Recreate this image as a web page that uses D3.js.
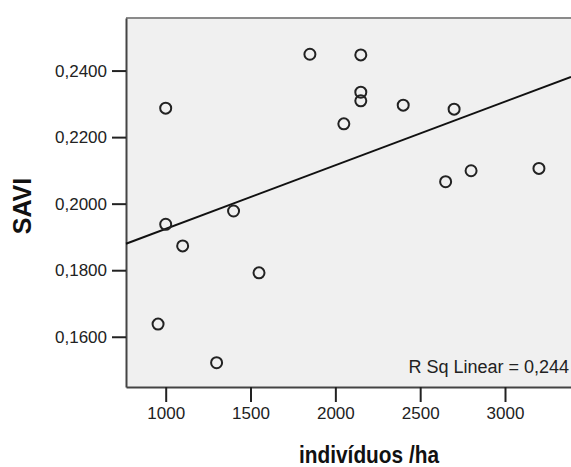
<!DOCTYPE html>
<html>
<head>
<meta charset="utf-8">
<script src="https://cdn.jsdelivr.net/npm/d3@7"></script>
<style>
  body { margin: 0; background: #fff; }
  svg { display: block; font-family: "Liberation Sans", Arial, sans-serif; }
</style>
</head>
<body>
<div id="chart"></div>
<script>
// individuals per hectare vs SAVI
const individuos = [955, 1000, 1000, 1100, 1300, 1400, 1550, 1850, 2050, 2150, 2150, 2150, 2400, 2650, 2700, 2800, 3200];
const savi = [0.1638, 0.2287, 0.1938, 0.1873, 0.1522, 0.1978, 0.1792, 0.2449, 0.2240, 0.2447, 0.2335, 0.2309, 0.2296, 0.2066, 0.2284, 0.2099, 0.2106];
const xTicks = [1000, 1500, 2000, 2500, 3000];
const yTicks = [0.16, 0.18, 0.20, 0.22, 0.24];
const rSqLabel = 'R Sq Linear = 0,244';

const width = 571, height = 467;
const margin = { top: 18, right: 0, bottom: 80, left: 126 };

const data = individuos.map((x, i) => ({ x, y: savi[i] }));

const svg = d3.select('#chart')
  .append('svg')
  .attr('width', width)
  .attr('height', height);

const x = d3.scaleLinear()
  .domain([766, 3389])
  .range([margin.left, width - margin.right]);

const y = d3.scaleLinear()
  .domain([0.1449, 0.2558])
  .range([height - margin.bottom, margin.top]);

// plot background
svg.append('rect')
  .attr('x', margin.left)
  .attr('y', margin.top)
  .attr('width', width - margin.left + 5)
  .attr('height', height - margin.bottom - margin.top)
  .attr('fill', '#f0f0f0');

svg.append('line')
  .attr('x1', margin.left).attr('x2', width)
  .attr('y1', margin.top).attr('y2', margin.top)
  .attr('stroke', '#8a8a8a')
  .attr('stroke-width', 2);

const fmtY = d => d3.format('.4f')(d).replace('.', ',');

const xAxis = svg.append('g')
  .attr('transform', `translate(0,${height - margin.bottom})`)
  .call(d3.axisBottom(x).tickValues(xTicks).tickFormat(d3.format('d')).tickSize(15).tickPadding(5).tickSizeOuter(0));

const yAxis = svg.append('g')
  .attr('transform', `translate(${margin.left},0)`)
  .call(d3.axisLeft(y).tickValues(yTicks).tickFormat(fmtY).tickSize(14).tickPadding(5).tickSizeOuter(0));

[xAxis, yAxis].forEach(g => {
  g.select('.domain').attr('stroke', '#444').attr('stroke-width', 2);
  g.selectAll('.tick line').attr('stroke', '#222').attr('stroke-width', 2);
  g.selectAll('.tick text')
    .attr('font-family', '"Liberation Sans", Arial, sans-serif')
    .attr('font-size', 17)
    .attr('fill', '#222');
});

// least squares fit
const mx = d3.mean(data, d => d.x), my = d3.mean(data, d => d.y);
const slope = d3.sum(data, d => (d.x - mx) * (d.y - my)) / d3.sum(data, d => (d.x - mx) ** 2);
const intercept = my - slope * mx;
const [x0, x1] = x.domain();

svg.append('line')
  .attr('x1', x(x0)).attr('y1', y(intercept + slope * x0))
  .attr('x2', x(x1)).attr('y2', y(intercept + slope * x1))
  .attr('stroke', '#111')
  .attr('stroke-width', 2);

svg.append('g')
  .selectAll('circle')
  .data(data)
  .enter()
  .append('circle')
  .attr('cx', d => x(d.x))
  .attr('cy', d => y(d.y))
  .attr('r', 5.5)
  .attr('fill', 'none')
  .attr('stroke', '#222')
  .attr('stroke-width', 2);

svg.append('text')
  .attr('x', 569)
  .attr('y', 373)
  .attr('text-anchor', 'end')
  .attr('font-size', 18)
  .attr('fill', '#222')
  .text(rSqLabel);

svg.append('text')
  .attr('x', 299)
  .attr('y', 463)
  .attr('font-size', 24)
  .attr('font-weight', 'bold')
  .attr('textLength', 140)
  .attr('lengthAdjust', 'spacingAndGlyphs')
  .attr('fill', '#111')
  .text('indivíduos /ha');

svg.append('text')
  .attr('transform', 'translate(31,206) rotate(-90)')
  .attr('text-anchor', 'middle')
  .attr('font-size', 25)
  .attr('font-weight', 'bold')
  .attr('fill', '#111')
  .text('SAVI');
</script>
</body>
</html>
